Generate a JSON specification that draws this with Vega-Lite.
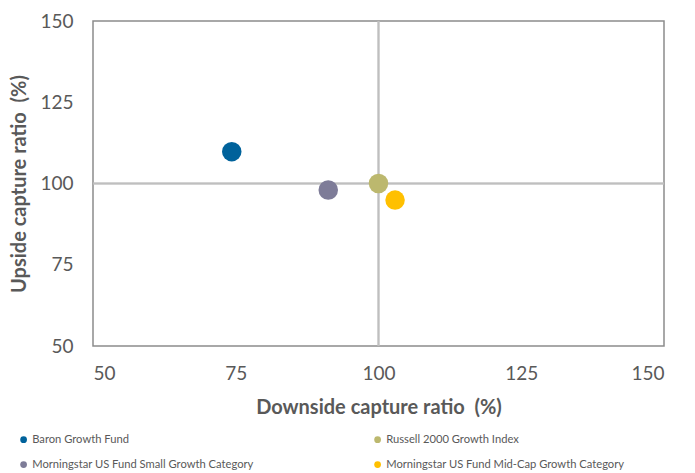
{
  "$schema": "https://vega.github.io/schema/vega-lite/v6.json",
  "width": 571,
  "height": 325,
  "autosize": {"type": "none"},
  "padding": {"left": 93, "top": 21, "right": 31, "bottom": 127},
  "background": "white",
  "config": {
    "font": "Lato",
    "view": {"stroke": "#8c8c8c", "strokeWidth": 1.5},
    "axis": {
      "domain": false,
      "ticks": false,
      "grid": false,
      "labelFont": "Lato",
      "labelFontSize": 19,
      "labelColor": "#595959",
      "titleFont": "Lato",
      "titleFontSize": 20,
      "titleFontWeight": "bold",
      "titleColor": "#595959"
    }
  },
  "data": {
    "values": [
      {"name": "Baron Growth Fund", "downside": 74.3, "upside": 109.8},
      {"name": "Russell 2000 Growth Index", "downside": 100, "upside": 100},
      {"name": "Morningstar US Fund Small Growth Category", "downside": 91.2, "upside": 98},
      {"name": "Morningstar US Fund Mid-Cap Growth Category", "downside": 102.9, "upside": 94.9}
    ]
  },
  "layer": [
    {
      "mark": {"type": "rule", "color": "#bfbfbf", "strokeWidth": 1.5},
      "encoding": {"x": {"datum": 100, "type": "quantitative", "scale": {"domain": [50, 150]}}}
    },
    {
      "mark": {"type": "rule", "color": "#bfbfbf", "strokeWidth": 1.5},
      "encoding": {"y": {"datum": 100, "type": "quantitative", "scale": {"domain": [50, 150]}}}
    },
    {
      "mark": {"type": "point", "filled": true, "opacity": 1, "size": 380},
      "encoding": {
        "x": {
          "field": "downside",
          "type": "quantitative",
          "scale": {"domain": [50, 150], "nice": false, "zero": false},
          "axis": {"values": [50, 75, 100, 125, 150], "labelPadding": 18, "title": "Downside capture ratio\u00a0 (%)", "titlePadding": 14}
        },
        "y": {
          "field": "upside",
          "type": "quantitative",
          "scale": {"domain": [50, 150], "nice": false, "zero": false},
          "axis": {"values": [50, 75, 100, 125, 150], "labelPadding": 20, "title": "Upside capture ratio\u00a0 (%)", "titlePadding": 10}
        },
        "color": {
          "field": "name",
          "type": "nominal",
          "scale": {
            "domain": ["Baron Growth Fund", "Morningstar US Fund Small Growth Category", "Russell 2000 Growth Index", "Morningstar US Fund Mid-Cap Growth Category"],
            "range": ["#00629b", "#7e7c98", "#bcb86e", "#ffc000"]
          },
          "legend": {
            "title": null,
            "orient": "none",
            "legendX": -75,
            "legendY": 413,
            "columns": 2,
            "columnPadding": 118,
            "rowPadding": 13,
            "symbolType": "circle",
            "symbolSize": 45,
            "labelOffset": 3,
            "labelFont": "Lato",
            "labelFontSize": 11.2,
            "labelColor": "#595959",
            "labelLimit": 400
          }
        }
      }
    }
  ]
}
